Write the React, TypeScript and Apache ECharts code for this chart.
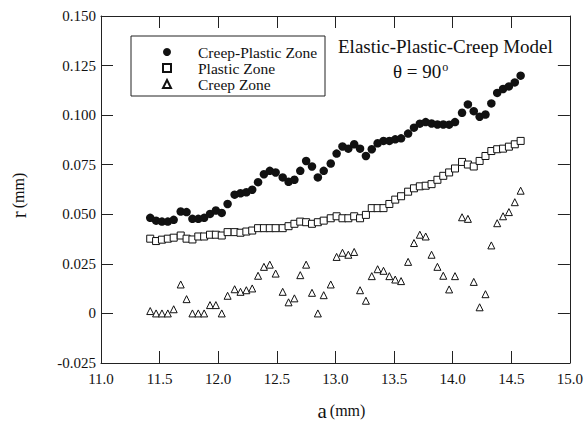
import React, { useEffect, useRef } from "react";
import * as echarts from "echarts";

const xValues = [
  11.42, 11.47, 11.52, 11.57, 11.62, 11.68, 11.73, 11.78, 11.83, 11.88,
  11.93, 11.98, 12.03, 12.08, 12.14, 12.19, 12.24, 12.29, 12.34, 12.39,
  12.44, 12.49, 12.55, 12.6, 12.65, 12.7, 12.75, 12.8, 12.85, 12.9,
  12.96, 13.01, 13.06, 13.11, 13.16, 13.21, 13.26, 13.31, 13.36, 13.41,
  13.46, 13.51, 13.56, 13.62, 13.67, 13.72, 13.77, 13.82, 13.87, 13.92,
  13.97, 14.02, 14.08, 14.13, 14.18, 14.23, 14.28, 14.33, 14.38, 14.43,
  14.48, 14.53, 14.58,
];

const creepPlastic = [
  0.0482, 0.0468, 0.0463, 0.0463, 0.0472, 0.0514, 0.0511, 0.0477, 0.0477, 0.0482,
  0.0502, 0.0519, 0.0507, 0.0552, 0.0599, 0.0606, 0.0611, 0.0624, 0.0662, 0.0702,
  0.0719, 0.0711, 0.0686, 0.0664, 0.0674, 0.0719, 0.0769, 0.0741, 0.0686, 0.0719,
  0.0756, 0.0806, 0.0842, 0.0831, 0.0853, 0.0831, 0.0794, 0.0828, 0.0858, 0.087,
  0.087, 0.0878, 0.0883, 0.0907, 0.0937, 0.0957, 0.0965, 0.0958, 0.0953, 0.0953,
  0.0952, 0.0965, 0.1012, 0.1054, 0.102, 0.0992, 0.1003, 0.1059, 0.1112, 0.1132,
  0.1145, 0.1165, 0.1199,
];

const plastic = [
  0.0377, 0.0365, 0.0372, 0.0377, 0.0382, 0.0393, 0.0377, 0.0373, 0.0388, 0.0388,
  0.0397, 0.0397, 0.0393, 0.041, 0.041, 0.0407, 0.0413, 0.0418, 0.043, 0.043,
  0.043, 0.043, 0.043, 0.044, 0.0452, 0.0463, 0.046, 0.0452, 0.046, 0.0468,
  0.048, 0.049, 0.048, 0.048, 0.049, 0.048, 0.0497, 0.0531, 0.0531, 0.0531,
  0.0552, 0.0574, 0.0591, 0.0614, 0.0631, 0.0641, 0.0644, 0.0652, 0.0674, 0.0694,
  0.0711, 0.0731, 0.0764, 0.0751, 0.0741, 0.0769, 0.0794, 0.0819, 0.0828, 0.0831,
  0.0841, 0.0853, 0.087,
];

const creep = [
  0.0012, 0, 0, 0, 0.0021, 0.0146, 0.0072, 0, 0, 0,
  0.0042, 0.0042, 0, 0.0089, 0.0122, 0.0109, 0.0117, 0.0126, 0.019, 0.0235,
  0.0246, 0.0201, 0.0109, 0.0056, 0.0076, 0.0193, 0.0246, 0.0104, 0, 0.0092,
  0.0146, 0.0285, 0.0306, 0.0296, 0.031, 0.0117, 0.0064, 0.0188, 0.0223, 0.0215,
  0.0188, 0.0171, 0.0163, 0.026, 0.0355, 0.0397, 0.0388, 0.0296, 0.0235, 0.019,
  0.0121, 0.0188, 0.0485, 0.0477, 0.0159, 0.0031, 0.0097, 0.0343, 0.0455, 0.049,
  0.0511, 0.0561, 0.0619,
];

const seriesNames = ["Creep-Plastic Zone", "Plastic Zone", "Creep Zone"];
const titleText = "Elastic-Plastic-Creep Model";

const FONT = "Liberation Serif";
const INK = "#111";
const AXIS = "#222";

const pairs = (ys: number[]) => xValues.map((x, i) => [x, ys[i]]);

export default function App() {
  const ref = useRef<HTMLDivElement>(null);
  useEffect(() => {
    if (!ref.current) return;
    const chart = echarts.init(ref.current, undefined, { renderer: "svg" });
    const tick = { show: true, inside: true, length: 12, lineStyle: { color: AXIS, width: 1 } };
    const line = { show: true, onZero: false, lineStyle: { color: AXIS, width: 1 } };
    chart.setOption({
      animation: false,
      backgroundColor: "#fff",
      textStyle: { fontFamily: FONT },
      grid: { left: 91, top: 16, right: 13, bottom: 61, containLabel: false },
      title: [
        {
          text: titleText,
          left: 338,
          top: 37,
          padding: 0,
          textStyle: { fontFamily: FONT, fontSize: 19, fontWeight: "normal", color: INK },
        },
        {
          text: "θ = 90{sup|o}",
          left: 393,
          top: 61,
          padding: 0,
          textStyle: {
            fontFamily: FONT,
            fontSize: 19,
            fontWeight: "normal",
            color: INK,
            rich: {
              sup: { fontFamily: FONT, fontSize: 12, verticalAlign: "top", color: INK, padding: [0, 0, 8, 1] },
            },
          },
        },
      ],
      legend: {
        orient: "vertical",
        left: 162,
        top: 44,
        padding: 0,
        itemWidth: 8,
        itemHeight: 8,
        itemGap: 0,
        symbolKeepAspect: true,
        selectedMode: false,
        data: seriesNames,
        textStyle: { fontFamily: FONT, fontSize: 15.5, color: INK, lineHeight: 15, padding: [0, 0, 0, 22] },
      },
      graphic: [
        {
          type: "rect",
          shape: { x: 131, y: 36, width: 194, height: 60 },
          style: { fill: "none", stroke: AXIS, lineWidth: 1 },
          silent: true,
        },
      ],
      xAxis: [
        {
          type: "value",
          min: 11,
          max: 15,
          interval: 0.5,
          position: "bottom",
          name: "{b|a} {s|(mm)}",
          nameLocation: "middle",
          nameGap: 37,
          nameTextStyle: {
            color: INK,
            padding: [0, 0, 0, 12],
            rich: {
              b: { fontFamily: FONT, fontSize: 21, color: INK },
              s: { fontFamily: FONT, fontSize: 16, color: INK },
            },
          },
          axisLine: line,
          axisTick: tick,
          splitLine: { show: false },
          axisLabel: {
            color: INK,
            fontFamily: FONT,
            fontSize: 15,
            margin: 8,
            formatter: (v: number) => v.toFixed(1),
          },
        },
        {
          type: "value",
          min: 11,
          max: 15,
          interval: 0.5,
          position: "top",
          axisLine: line,
          axisTick: tick,
          splitLine: { show: false },
          axisLabel: { show: false },
        },
      ],
      yAxis: [
        {
          type: "value",
          min: -0.025,
          max: 0.15,
          interval: 0.025,
          position: "left",
          name: "{b|r} {s|(mm)}",
          nameLocation: "middle",
          nameGap: 72,
          nameTextStyle: {
            color: INK,
            padding: [0, 12, 0, 0],
            rich: {
              b: { fontFamily: FONT, fontSize: 21, color: INK },
              s: { fontFamily: FONT, fontSize: 16, color: INK },
            },
          },
          axisLine: line,
          axisTick: tick,
          splitLine: { show: false },
          axisLabel: {
            color: INK,
            fontFamily: FONT,
            fontSize: 15,
            margin: 5,
            formatter: (v: number) => (Math.abs(v) < 1e-9 ? "0" : v.toFixed(3)),
          },
        },
        {
          type: "value",
          min: -0.025,
          max: 0.15,
          interval: 0.025,
          position: "right",
          axisLine: line,
          axisTick: tick,
          splitLine: { show: false },
          axisLabel: { show: false },
        },
      ],
      series: [
        {
          name: seriesNames[0],
          type: "scatter",
          symbol: "circle",
          symbolSize: 8.5,
          data: pairs(creepPlastic),
          itemStyle: { color: INK, opacity: 1 },
        },
        {
          name: seriesNames[1],
          type: "scatter",
          symbol: "rect",
          symbolSize: 7,
          data: pairs(plastic),
          itemStyle: { color: "#fff", borderColor: INK, borderWidth: 1, opacity: 1 },
        },
        {
          name: seriesNames[2],
          type: "scatter",
          symbol: "triangle",
          symbolSize: 7,
          data: pairs(creep),
          itemStyle: { color: "#fff", borderColor: INK, borderWidth: 1, opacity: 1 },
        },
      ],
    });
    return () => chart.dispose();
  }, []);
  return (
    <div
      ref={ref}
      style={{ position: "fixed", left: 0, top: 0, width: 586, height: 426, background: "#fff" }}
    />
  );
}
